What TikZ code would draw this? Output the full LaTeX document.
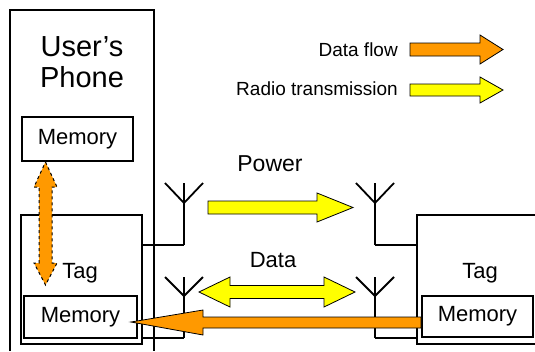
\documentclass[tikz,border=0pt]{standalone}
\usepackage{fontspec}
\setmainfont{Liberation Sans}
\begin{document}
\begin{tikzpicture}[x=1pt,y=-1pt,
  thick line/.style={line width=1.8pt, line join=miter},
  memorybox/.style={draw, line width=1.8pt, inner sep=0pt, font=\fontsize{22}{24}\selectfont},
  plainlabel/.style={inner sep=0pt, font=\fontsize{22}{24}\selectfont},
  legendlabel/.style={inner sep=0pt, anchor=east, font=\fontsize{19}{21}\selectfont},
  radioarrow/.style={fill=radioyellow, draw=black, line width=0.8pt},
  dataarrow/.style={fill=dataorange, draw=black, line width=0.8pt},
  antenna/.style={line width=1.8pt}]
\definecolor{dataorange}{HTML}{FF9900}
\definecolor{radioyellow}{HTML}{FFFF00}
\useasboundingbox (0,0) rectangle (535,351);

% User's phone (open at the bottom)
\draw[thick line] (10,351) -- (10,10) -- (154,10) -- (154,351);
\node[inner sep=0pt, align=center, font=\fontsize{29}{31}\selectfont] (phone) at (82,62) {User’s\\Phone};
\node[memorybox, minimum width=111pt, minimum height=44pt] (mem1) at (77.5,139) {Memory};

% Tag inside the phone
\node[draw, line width=1.8pt, minimum width=121pt, minimum height=129pt, inner sep=0pt] (tag1) at (81.5,279.5) {};
\node[plainlabel] (tag1label) at (80,273) {Tag};
\node[memorybox, minimum width=113pt, minimum height=42pt] (mem2) at (80.5,317) {Memory};

% Tag on the right (open at the right)
\draw[thick line] (535,215) -- (417,215) -- (417,344) -- (535,344);
\node[plainlabel] (tag2label) at (480,273) {Tag};
\node[memorybox, minimum width=111pt, minimum height=41pt] (mem3) at (477.5,316.5) {Memory};

% antennas
\coordinate (a1) at (184,245);
\coordinate (a2) at (184,338);
\coordinate (a3) at (375,245);
\coordinate (a4) at (375,338);
\foreach \c/\t in {a1/183,a2/277,a3/183,a4/277}{
  \draw[antenna] (\c) -- (\c |- 0,\t);
}
\draw[antenna] (165,183) -- (184,203) -- (203,183);
\draw[antenna] (165,277) -- (184,296) -- (203,277);
\draw[antenna] (356,183) -- (375,203) -- (394,183);
\draw[antenna] (356,277) -- (375,296) -- (394,277);
\draw[antenna] (tag1.east |- a1) -- (a1);
\draw[antenna] (tag1.east |- a2) -- (a2);
\draw[antenna] (a3) -- (417,245);
\draw[antenna] (a4) -- (417,338);

% Power arrow
\node[inner sep=0pt, font=\fontsize{23}{25}\selectfont] (power) at (270,164) {Power};
\draw[radioarrow] (208,201) -- (317,201) -- (317,193) -- (353,207.5) -- (317,222) -- (317,214) -- (208,214) -- cycle;

% Data double arrow
\node[plainlabel] (data) at (273,260) {Data};
\draw[radioarrow] (199,292) -- (230,277) -- (230,285.5) -- (324,285.5) -- (324,277) -- (355,292) -- (324,307) -- (324,298.5) -- (230,298.5) -- (230,307) -- cycle;

% Data flow from right tag memory to phone tag memory
\draw[dataarrow] ([xshift=-7pt]mem2.east |- 0,322) -- (203,310) -- (203,317) -- (mem3.west |- 0,317) -- (mem3.west |- 0,328) -- (203,328) -- (203,335) -- cycle;

% Vertical dashed double arrow between memories
\draw[dataarrow, dashed, line width=1pt] (45.5,162) -- (57,187) -- (52,187) -- (52,263) -- (57,263) -- (45.5,285) -- (34,263) -- (39,263) -- (39,187) -- (34,187) -- cycle;

% Legend
\node[legendlabel] (lgdata) at (398,50) {Data flow};
\draw[dataarrow] (410,43) -- (480,43) -- (480,35) -- (503,49.5) -- (480,64) -- (480,56) -- (410,56) -- cycle;
\node[legendlabel] (lgradio) at (398,89) {Radio transmission};
\draw[radioarrow] (410,84) -- (480,84) -- (480,77) -- (503,90) -- (480,103) -- (480,96) -- (410,96) -- cycle;
\end{tikzpicture}
\end{document}
